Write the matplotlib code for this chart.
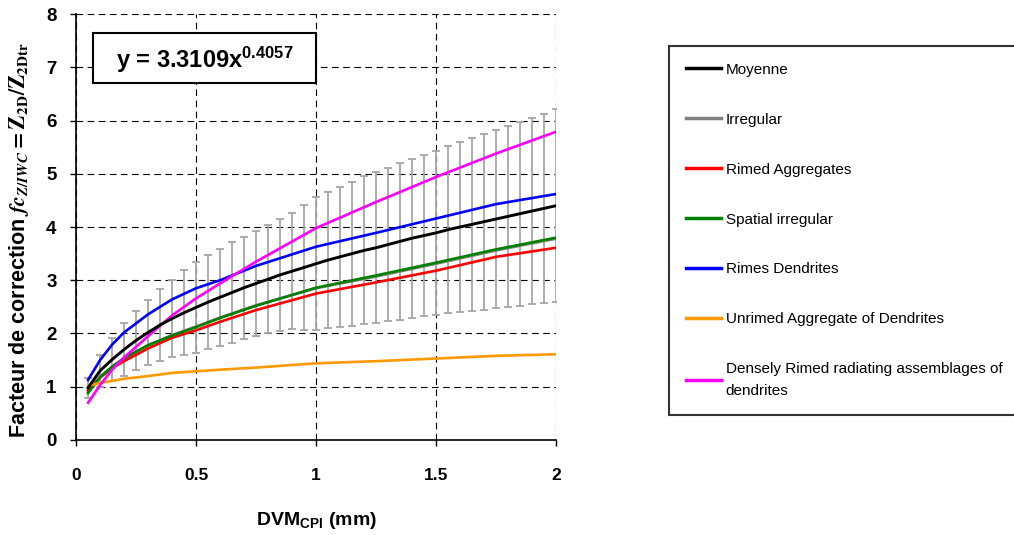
import numpy as np
import matplotlib
matplotlib.use('Agg')
import matplotlib.pyplot as plt
from matplotlib.patches import Rectangle

plt.rcParams['font.family'] = ['Liberation Sans', 'DejaVu Sans']
plt.rcParams['font.weight'] = 'bold'
plt.rcParams['mathtext.fontset'] = 'custom'
plt.rcParams['mathtext.rm'] = 'Liberation Sans:bold'
plt.rcParams['mathtext.bf'] = 'Liberation Sans:bold'
plt.rcParams['mathtext.it'] = 'Liberation Sans:italic:bold'

# mean curve + std (error bars) on a 0.05 mm grid
x_mean = [0.05, 0.10, 0.15, 0.20, 0.25, 0.30, 0.35, 0.40, 0.45, 0.50,
          0.55, 0.60, 0.65, 0.70, 0.75, 0.80, 0.85, 0.90, 0.95, 1.00,
          1.05, 1.10, 1.15, 1.20, 1.25, 1.30, 1.35, 1.40, 1.45, 1.50,
          1.55, 1.60, 1.65, 1.70, 1.75, 1.80, 1.85, 1.90, 1.95, 2.00]
moyenne = [0.98, 1.30, 1.51, 1.70, 1.87, 2.02, 2.16, 2.28, 2.39, 2.49,
           2.59, 2.68, 2.77, 2.86, 2.94, 3.02, 3.10, 3.17, 3.24, 3.31,
           3.38, 3.44, 3.50, 3.56, 3.61, 3.67, 3.73, 3.79, 3.84, 3.89,
           3.95, 4.00, 4.05, 4.10, 4.15, 4.20, 4.25, 4.30, 4.35, 4.40]
ecart = [0.19, 0.30, 0.40, 0.49, 0.55, 0.61, 0.67, 0.73, 0.80, 0.86,
         0.89, 0.91, 0.94, 0.96, 0.98, 1.02, 1.05, 1.09, 1.17, 1.25,
         1.27, 1.31, 1.35, 1.39, 1.42, 1.44, 1.47, 1.49, 1.52, 1.54,
         1.57, 1.60, 1.62, 1.65, 1.67, 1.70, 1.73, 1.75, 1.78, 1.81]

# habit curves
x_hab = [0.05, 0.1, 0.15, 0.2, 0.3, 0.4, 0.5, 0.6, 0.75, 1.0, 1.25, 1.5, 1.75, 2.0]
irregular = [0.90, 1.19, 1.38, 1.53, 1.78, 1.97, 2.13, 2.30, 2.53, 2.85, 3.07, 3.31, 3.56, 3.78]
rimed_agg = [0.93, 1.17, 1.35, 1.48, 1.72, 1.92, 2.06, 2.22, 2.44, 2.75, 2.96, 3.18, 3.44, 3.61]
spatial = [0.88, 1.18, 1.37, 1.54, 1.78, 1.96, 2.12, 2.29, 2.52, 2.86, 3.09, 3.33, 3.58, 3.80]
rimes_dend = [1.13, 1.50, 1.79, 2.02, 2.36, 2.64, 2.85, 3.00, 3.27, 3.63, 3.89, 4.16, 4.43, 4.62]
unrimed = [1.02, 1.07, 1.11, 1.15, 1.20, 1.26, 1.29, 1.32, 1.36, 1.44, 1.48, 1.53, 1.58, 1.61]
densely = [0.70, 1.03, 1.32, 1.55, 1.95, 2.34, 2.66, 2.94, 3.35, 3.98, 4.47, 4.94, 5.38, 5.79]

labels = ['Moyenne', 'Irregular', 'Rimed Aggregates', 'Spatial irregular',
          'Rimes Dendrites', 'Unrimed Aggregate of Dendrites',
          'Densely Rimed radiating assemblages of\ndendrites']
colors = ['black', '#808080', '#ff0000', '#008000', '#0000ff', '#ff9900', '#ff00ff']

fig = plt.figure(figsize=(10.14, 5.35), dpi=100)
ax = fig.add_axes([0.075, 0.1776, 0.4734, 0.7962])

ax.errorbar(x_mean, moyenne, yerr=ecart, fmt='none', ecolor='#a6a6a6',
            elinewidth=1.3, capsize=3, capthick=1.3, zorder=2)

series = [irregular, rimed_agg, spatial, rimes_dend, unrimed, densely]
handles = [None] * 7
for i, s in enumerate(series):
    h, = ax.plot(x_hab, s, color=colors[i + 1], lw=1.9, zorder=3)
    handles[i + 1] = h
h, = ax.plot(x_mean, moyenne, color='black', lw=2.1, zorder=4)
handles[0] = h

ax.set_xlim(0, 2)
ax.set_ylim(0, 8)
ax.set_xticks([0, 0.5, 1, 1.5, 2])
ax.set_xticklabels(['0', '0.5', '1', '1.5', '2'])
ax.set_yticks(range(9))
ax.tick_params(axis='x', direction='out', length=4, width=1, pad=16, labelsize=12.5)
ax.tick_params(axis='y', direction='out', length=4, width=1, pad=10, labelsize=13.5)
ax.grid(True, color='black', linestyle=(0, (6, 4)), linewidth=0.8)
ax.set_axisbelow(True)
ax.spines['top'].set_visible(False)
ax.spines['right'].set_visible(False)
ax.spines['left'].set_linewidth(1.2)
ax.spines['bottom'].set_linewidth(1.2)

ax.set_xlabel(r'DVM$_{\mathbf{CPI}}$ (mm)', fontsize=14, fontweight='bold')
ax.xaxis.set_label_coords(0.5, -0.165)
ax.set_ylabel(r'Facteur de correction $\mathit{fc}_{Z/IWC}\mathbf{=Z_{2D}/Z_{2Dtr}}$',
              fontsize=15.5, fontweight='bold', math_fontfamily='stix')
ax.yaxis.set_label_coords(-0.094, 0.47)

ax.add_patch(Rectangle((0.035, 0.838), 0.465, 0.117, transform=ax.transAxes,
                       facecolor='white', edgecolor='black', lw=1.5, zorder=5))
ax.text(0.268, 0.893, r'y = 3.3109x$^{\mathbf{0.4057}}$', transform=ax.transAxes,
        ha='center', va='center', fontsize=17, fontweight='bold', zorder=6)

leg = fig.legend(handles, labels, loc='upper left', bbox_to_anchor=(669 / 1014, 1 - 46 / 535),
                 bbox_transform=fig.transFigure, frameon=True, fancybox=False,
                 borderaxespad=0,
                 prop={'family': ['Liberation Sans'], 'size': 11, 'weight': 'normal'},
                 labelspacing=2.35, handlelength=2.3, handletextpad=0.3, borderpad=1.1)
leg.get_frame().set_edgecolor('black')
leg.get_frame().set_linewidth(1.5)
for ln in leg.get_lines():
    ln.set_linewidth(2.5)
for t in leg.get_texts():
    t.set_linespacing(1.7)

fig.savefig('out.png', dpi=100)
